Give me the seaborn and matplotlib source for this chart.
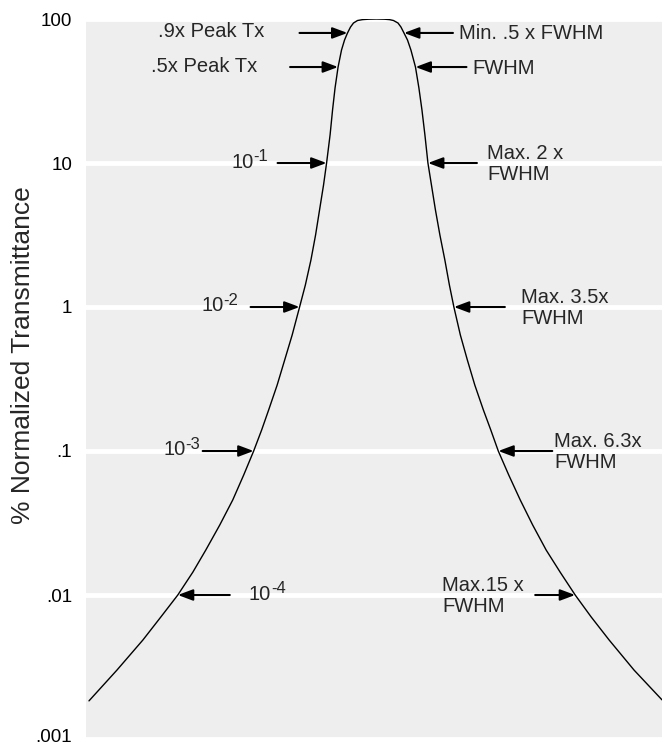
import matplotlib
matplotlib.use('Agg')
import matplotlib.pyplot as plt
from matplotlib.ticker import NullLocator
from matplotlib.transforms import ScaledTranslation
import numpy as np
import seaborn as sns

# Filter transmission curve (x in FWHM units from centre)
offset_fwhm = [-3.600, -3.250, -2.925, -2.700, -2.488, -2.300, -2.138, -1.963,
               -1.800, -1.663, -1.538, -1.438, -1.350, -1.244, -1.150, -1.056,
               -0.963, -0.891, -0.821, -0.763, -0.713, -0.663, -0.625, -0.581,
               -0.550, -0.519, -0.481, -0.438, -0.400, -0.363, -0.325, -0.288,
               -0.238, -0.175, -0.100, 0.000,
               0.100, 0.163, 0.213, 0.269, 0.306, 0.344, 0.388, 0.431, 0.488,
               0.531, 0.569, 0.606, 0.644, 0.688, 0.738, 0.794, 0.856, 0.913,
               0.969, 1.050, 1.138, 1.231, 1.338, 1.431, 1.525, 1.656, 1.800,
               1.956, 2.125, 2.300, 2.488, 2.688, 2.913, 3.225, 3.575]
transmittance = [0.00184, 0.00301, 0.00487, 0.00704, 0.01, 0.0144, 0.0205, 0.0306,
                 0.0457, 0.0681, 0.1, 0.140, 0.193, 0.287, 0.428, 0.639,
                 1.0, 1.42, 2.12, 3.16, 4.72, 7.04, 10.0, 15.7,
                 23.4, 33.2, 46.4, 60.9, 71.5, 80.0, 88.0, 93.8,
                 97.6, 99.0, 99.7, 100.0,
                 99.7, 99.0, 97.6, 93.8, 88.0, 80.0, 71.5, 60.9, 46.4,
                 33.2, 23.4, 15.7, 10.0, 7.04, 4.72, 3.16, 2.12, 1.42,
                 1.0, 0.639, 0.428, 0.287, 0.193, 0.140, 0.1, 0.0681, 0.0457,
                 0.0306, 0.0205, 0.0144, 0.01, 0.00704, 0.00487, 0.00301, 0.00187]

ytick_vals = [100, 10, 1, 0.1, 0.01, 0.001]
ytick_labels = ['100', '10', '1', '.1', '.01', '.001']

# annotation levels (% transmittance where each arrow meets the curve)
left_levels = [80, 46.4, 10, 1, 0.1, 0.01]
left_labels = ['.9x Peak Tx', '.5x Peak Tx', '10^-1', '10^-2', '10^-3', '10^-4']
right_levels = [80, 46.4, 10, 1, 0.1, 0.01]
right_labels = ['Min. .5 x FWHM', 'FWHM', 'Max. 2 x\nFWHM', 'Max. 3.5x\nFWHM',
                'Max. 6.3x\nFWHM', 'Max.15 x\nFWHM']

sns.set_theme(style='darkgrid', rc={'axes.facecolor': '#eeeeee',
                                    'grid.color': 'white',
                                    'grid.linewidth': 3.5})
plt.rcParams['font.family'] = ['Liberation Sans', 'DejaVu Sans']

fig = plt.figure(figsize=(6.62, 7.45), dpi=100)
ax = fig.add_axes([86 / 662, 6 / 745, 576 / 662, 720 / 745])

sns.lineplot(x=offset_fwhm, y=transmittance, ax=ax, color='black',
             linewidth=1.0, sort=False, estimator=None)

ax.set_yscale('log')
ax.set_ylim(0.001, 100)
ax.set_xlim(-3.6375, 3.575)
ax.set_yticks(ytick_vals)
ax.set_yticklabels(ytick_labels, fontsize=13.5, color='black')
ax.yaxis.set_minor_locator(NullLocator())
ax.tick_params(axis='y', length=0, pad=10)
ax.set_xticks([])
ax.xaxis.grid(False)
for s in ax.spines.values():
    s.set_visible(False)
# nudge the bottom tick label up so it stays inside the figure
lab = ax.get_yticklabels()[-1]
lab.set_transform(lab.get_transform() + ScaledTranslation(0, 3 / 100, fig.dpi_scale_trans))

fig.text(23 / 662, 1 - 355 / 745, '% Normalized Transmittance', rotation=90,
         ha='center', va='center', fontsize=19)

# branches for locating where arrows meet the curve
x = np.array(offset_fwhm)
y = np.log10(transmittance)
xl, yl = x[x <= -0.175], y[x <= -0.175]
xr, yr = x[x >= 0.163][::-1], y[x >= 0.163][::-1]

arrow_kw = dict(arrowstyle='-|>,head_length=0.75,head_width=0.28', color='black',
                lw=1.5, shrinkA=0, shrinkB=0, mutation_scale=12)
font_sz = 14.5


def put_label(tip, text, tx, ha, ty):
    if '^' in text:
        base, exp = text.split('^')
        bx = tx - 15 if ha == 'right' else tx
        t = ax.annotate(base, xy=tip, xytext=(bx, ty), textcoords='offset pixels',
                        ha=ha, va='center', fontsize=font_sz)
        ax.annotate(exp, xy=(1.0, 0.42), xycoords=t, ha='left', va='bottom',
                    fontsize=12)
    else:
        ax.annotate(text, xy=tip, xytext=(tx, ty), textcoords='offset pixels',
                    ha=ha, va='center', fontsize=font_sz, linespacing=1.15)


# (arrow length px, text offset px, ha)
left_layout = [(-48, -83, 'right'), (-48, -81, 'right'), (-49, -58, 'right'),
               (-49, -61, 'right'), (-51, -53, 'right'), (52, 71, 'left')]
right_layout = [(49, 55, 'left'), (51, 57, 'left'), (49, 59, 'left'),
                (51, 67, 'left'), (54, 56, 'left'), (-40, -133, 'left')]

for lev, lab, (dx, tx, ha) in zip(left_levels, left_labels, left_layout):
    tip = (np.interp(np.log10(lev), yl, xl), lev)
    ax.annotate('', xy=tip, xytext=(dx, 0), textcoords='offset pixels',
                arrowprops=arrow_kw)
    put_label(tip, lab, tx, ha, 1)

for lev, lab, (dx, tx, ha) in zip(right_levels, right_labels, right_layout):
    tip = (np.interp(np.log10(lev), yr, xr), lev)
    ax.annotate('', xy=tip, xytext=(dx, 0), textcoords='offset pixels',
                arrowprops=arrow_kw)
    put_label(tip, lab, tx, ha, -1)

fig.savefig('out.png', dpi=100, facecolor='white')
plt.close(fig)
